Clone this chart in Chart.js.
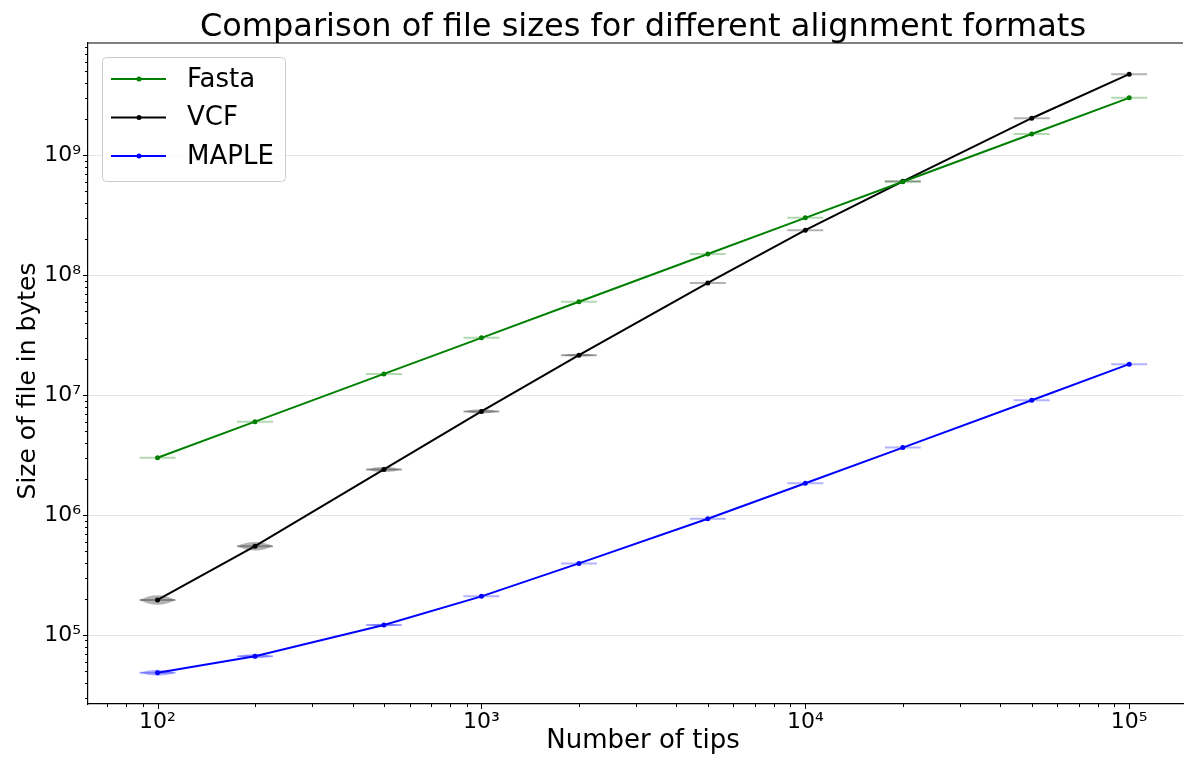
<!DOCTYPE html>
<html>
<head>
<meta charset="utf-8">
<script src="https://cdn.jsdelivr.net/npm/chart.js@4.4.0/dist/chart.umd.min.js"></script>
<style>
html, body { margin: 0; padding: 0; background: #fff; }
#wrap { width: 1186px; height: 763px; }
</style>
</head>
<body>
<div id="wrap"><canvas id="sizes"></canvas></div>
<script>
// number of tips (x) and file sizes in bytes (y)
const tips = [100, 200, 500, 1000, 2000, 5000, 10000, 20000, 50000, 100000];
const fasta = [3.0e6, 6.0e6, 1.5e7, 3.0e7, 6.0e7, 1.5e8, 3.0e8, 6.0e8, 1.5e9, 3.0e9];
const vcf = [1.96e5, 5.5e5, 2.4e6, 7.3e6, 2.15e7, 8.6e7, 2.37e8, 6.05e8, 2.03e9, 4.73e9];
const maple = [4.85e4, 6.65e4, 1.21e5, 2.1e5, 3.95e5, 9.3e5, 1.84e6, 3.65e6, 9.05e6, 1.81e7];
// violin half height, in decades
const fastaSpread = [0, 0, 0, 0, 0, 0, 0, 0, 0, 0];
const vcfSpread = [0.04, 0.035, 0.022, 0.018, 0.012, 0.008, 0.004, 0.004, 0, 0];
const mapleSpread = [0.025, 0.018, 0.012, 0.008, 0.006, 0.004, 0.004, 0, 0, 0];

const chartTitle = 'Comparison of file sizes for different alignment formats';
const xTitle = 'Number of tips';
const yTitle = 'Size of file in bytes';

const FONT = "'DejaVu Sans', sans-serif";
const SUP = {'0':'⁰','1':'¹','2':'²','3':'³','4':'⁴','5':'⁵','6':'⁶','7':'⁷','8':'⁸','9':'⁹','-':'⁻'};

const isDecade = v => {
    const e = Math.round(Math.log10(v));
    return Math.abs(v - Math.pow(10, e)) < 1e-6 * v;
};
const decadeLabel = v => {
    if (!isDecade(v)) return '';
    const e = String(Math.round(Math.log10(v)));
    return '10' + e.split('').map(c => SUP[c]).join('');
};

const logTicks = (scale) => {
    const ticks = [];
    const lo = Math.floor(Math.log10(scale.min));
    const hi = Math.ceil(Math.log10(scale.max));
    for (let e = lo; e <= hi; e++) {
        for (let m = 1; m <= 9; m++) {
            const v = m * Math.pow(10, e);
            if (v >= scale.min && v <= scale.max) ticks.push({value: v, major: m === 1});
        }
    }
    scale.ticks = ticks;
};

const points = (ys) => tips.map((t, i) => ({x: t, y: ys[i]}));

const violinPlugin = {
    id: 'violins',
    beforeDatasetsDraw(chart) {
        const {ctx, chartArea, scales: {x, y}} = chart;
        ctx.save();
        ctx.beginPath();
        ctx.rect(chartArea.left, chartArea.top, chartArea.right - chartArea.left, chartArea.bottom - chartArea.top);
        ctx.clip();
        chart.data.datasets.forEach(ds => {
            ctx.fillStyle = ds.violinColor;
            ctx.strokeStyle = ds.violinColor;
            ds.data.forEach((p, i) => {
                const px = x.getPixelForValue(p.x);
                const py = y.getPixelForValue(p.y);
                const s = ds.spread[i];
                const h = py - y.getPixelForValue(p.y * Math.pow(10, s));
                ctx.lineWidth = 2;
                ctx.beginPath();
                ctx.moveTo(px - 18, py);
                ctx.lineTo(px + 18, py);
                ctx.stroke();
                if (h > 1) {
                    ctx.beginPath();
                    ctx.moveTo(px - 18, py);
                    ctx.quadraticCurveTo(px, py - 2 * h, px + 18, py);
                    ctx.quadraticCurveTo(px, py + 2 * h, px - 18, py);
                    ctx.fill();
                }
            });
        });
        ctx.restore();
    }
};

const framePlugin = {
    id: 'frame',
    afterDraw(chart) {
        const {ctx, chartArea: a, scales: {x, y}} = chart;
        ctx.save();
        ctx.strokeStyle = '#000';
        // tick marks, minor ones shorter
        ctx.lineWidth = 1;
        x.ticks.forEach(t => {
            const px = Math.round(x.getPixelForValue(t.value)) + 0.5;
            const len = t.major ? 5 : 3;
            ctx.beginPath();
            ctx.moveTo(px, a.bottom);
            ctx.lineTo(px, a.bottom + len);
            ctx.stroke();
        });
        y.ticks.forEach(t => {
            const py = Math.round(y.getPixelForValue(t.value)) + 0.5;
            const len = t.major ? 5 : 3;
            ctx.beginPath();
            ctx.moveTo(a.left, py);
            ctx.lineTo(a.left - len, py);
            ctx.stroke();
        });
        // top spine
        ctx.lineWidth = 1.2;
        ctx.beginPath();
        ctx.moveTo(a.left, a.top);
        ctx.lineTo(a.right, a.top);
        ctx.stroke();

        // titles (the axes run past the right edge, so centres sit right of the visible area)
        ctx.fillStyle = '#000';
        ctx.textAlign = 'center';
        ctx.textBaseline = 'alphabetic';
        ctx.font = '32px ' + FONT;
        ctx.fillText(chartTitle, 643, 36);
        ctx.font = '26px ' + FONT;
        ctx.fillText(xTitle, 643, 748);
        ctx.save();
        ctx.translate(35, 381);
        ctx.rotate(-Math.PI / 2);
        ctx.font = '25px ' + FONT;
        ctx.fillText(yTitle, 0, 0);
        ctx.restore();

        // legend box, upper left
        ctx.textAlign = 'left';
        const bx = a.left + 14, by = a.top + 14, bw = 183, bh = 124;
        ctx.fillStyle = 'rgba(255,255,255,0.8)';
        ctx.strokeStyle = '#cccccc';
        ctx.lineWidth = 1;
        ctx.beginPath();
        ctx.roundRect(bx + 0.5, by + 0.5, bw, bh, 4);
        ctx.fill();
        ctx.stroke();
        ctx.font = '26px ' + FONT;
        ctx.textBaseline = 'middle';
        chart.data.datasets.forEach((ds, i) => {
            const ly = by + 22 + i * 38.5;
            ctx.strokeStyle = ds.borderColor;
            ctx.lineWidth = 2;
            ctx.beginPath();
            ctx.moveTo(bx + 9, ly);
            ctx.lineTo(bx + 64, ly);
            ctx.stroke();
            ctx.fillStyle = ds.borderColor;
            ctx.beginPath();
            ctx.arc(bx + 37, ly, 2.5, 0, Math.PI * 2);
            ctx.fill();
            ctx.fillStyle = '#000';
            ctx.fillText(ds.label, bx + 85, ly + 1);
        });
        ctx.restore();
    }
};

new Chart(document.getElementById('sizes'), {
    type: 'line',
    data: {
        datasets: [
            {
                label: 'Fasta',
                data: points(fasta),
                spread: fastaSpread,
                borderColor: '#008000',
                backgroundColor: '#008000',
                violinColor: 'rgba(0,128,0,0.3)'
            },
            {
                label: 'VCF',
                data: points(vcf),
                spread: vcfSpread,
                borderColor: '#000000',
                backgroundColor: '#000000',
                violinColor: 'rgba(0,0,0,0.3)'
            },
            {
                label: 'MAPLE',
                data: points(maple),
                spread: mapleSpread,
                borderColor: '#0000ff',
                backgroundColor: '#0000ff',
                violinColor: 'rgba(0,0,255,0.3)'
            }
        ]
    },
    options: {
        responsive: true,
        maintainAspectRatio: false,
        animation: false,
        layout: {padding: {top: 43, left: 0, right: 0, bottom: 0}},
        elements: {
            line: {borderWidth: 2, tension: 0},
            point: {radius: 2.5, borderWidth: 0, hoverRadius: 3}
        },
        plugins: {
            legend: {display: false},
            tooltip: {enabled: false},
            title: {display: false}
        },
        scales: {
            x: {
                type: 'logarithmic',
                min: 61,
                max: 146600,
                afterBuildTicks: logTicks,
                afterFit: (scale) => { scale.height = 59; },
                grid: {drawOnChartArea: false, drawTicks: false},
                border: {display: true, color: '#000', width: 1.2},
                ticks: {
                    autoSkip: false,
                    maxRotation: 0,
                    minRotation: 0,
                    padding: 5,
                    color: '#000',
                    font: {family: FONT, size: 22},
                    callback: (v) => decadeLabel(v)
                },
                title: {display: false}
            },
            y: {
                type: 'logarithmic',
                min: 2.66e4,
                max: 8.6e9,
                afterBuildTicks: logTicks,
                afterFit: (scale) => { scale.width = 88; },
                grid: {
                    drawTicks: false,
                    color: (c) => (c.tick && isDecade(c.tick.value)) ? '#e5e5e5' : 'rgba(0,0,0,0)',
                    lineWidth: 1
                },
                border: {display: true, color: '#000', width: 1.2},
                ticks: {
                    autoSkip: false,
                    padding: 7,
                    color: '#000',
                    font: {family: FONT, size: 22},
                    callback: (v) => decadeLabel(v)
                },
                title: {display: false}
            }
        }
    },
    plugins: [violinPlugin, framePlugin]
});
</script>
</body>
</html>
